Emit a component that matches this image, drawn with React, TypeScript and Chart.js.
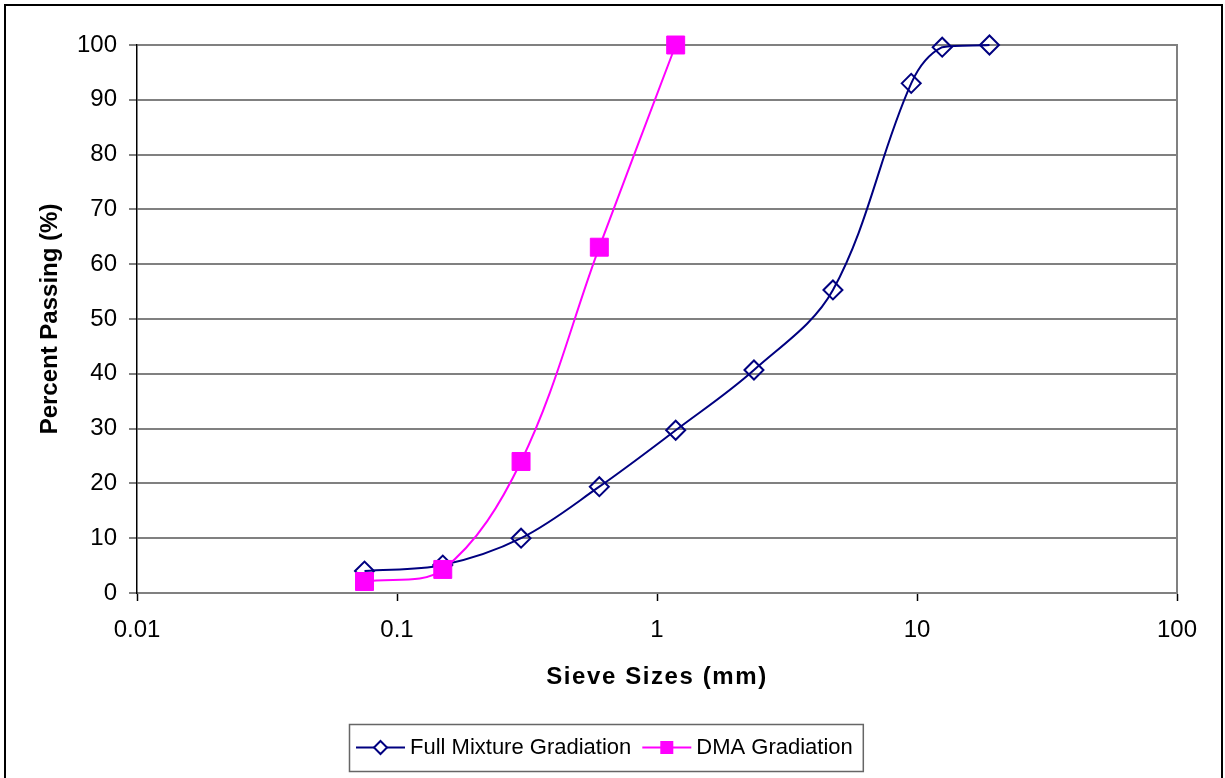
import React, { useEffect, useRef } from 'react';
import { Chart, registerables } from 'chart.js';

Chart.register(...registerables);

// ---- Data ----
const sieveSizes = [0.075, 0.15, 0.3, 0.6, 1.18, 2.36, 4.75, 9.5, 12.5, 19];
const fullMixture = [4.0, 5.1, 10.0, 19.4, 29.7, 40.7, 55.3, 93.0, 99.6, 100];
const dmaSieves = [0.075, 0.15, 0.3, 0.6, 1.18];
const dmaGradation = [2.1, 4.3, 24.0, 63.1, 100];
const xTickValues = [0.01, 0.1, 1, 10, 100];
const xTickLabels = ['0.01', '0.1', '1', '10', '100'];
const seriesNames = ['Full Mixture Gradiation', 'DMA Gradiation'];
const xTitle = 'Sieve Sizes (mm)';
const yTitle = 'Percent Passing (%)';

const FONT = '"Liberation Sans", Arial, sans-serif';
const NAVY = '#000080';
const MAGENTA = '#FF00FF';

const framePlugin = {
  id: 'frameAndLegend',
  beforeDraw(chart: any) {
    const ctx = chart.ctx;
    ctx.save();
    ctx.fillStyle = '#ffffff';
    ctx.fillRect(0, 0, chart.width, chart.height);
    ctx.restore();
  },
  beforeDatasetsDraw(chart: any) {
    const { ctx, chartArea } = chart;
    ctx.save();
    ctx.strokeStyle = '#808080';
    ctx.lineWidth = 2;
    ctx.beginPath();
    ctx.moveTo(chartArea.right, chartArea.top - 1);
    ctx.lineTo(chartArea.right, chartArea.bottom);
    ctx.stroke();
    ctx.restore();
  },
  afterDraw(chart: any) {
    const ctx = chart.ctx;
    const { chartArea } = chart;
    ctx.save();
    // outer frame
    ctx.strokeStyle = '#000000';
    ctx.lineWidth = 2;
    ctx.strokeRect(5, 5, 1217, 800);

    // x axis title (with the reference's wider letter spacing)
    ctx.font = `bold 24px ${FONT}`;
    try {
      (ctx as any).letterSpacing = '1.6px';
    } catch (e) {}
    const tw = ctx.measureText(xTitle).width;
    ctx.fillStyle = '#000000';
    ctx.textAlign = 'left';
    ctx.textBaseline = 'middle';
    ctx.fillText(xTitle, (chartArea.left + chartArea.right) / 2 - tw / 2, 677);
    try {
      (ctx as any).letterSpacing = '0px';
    } catch (e) {}

    // legend
    ctx.font = `22px ${FONT}`;
    const entries = chart.data.datasets.map((ds: any) => ({
      label: ds.label,
      color: ds.borderColor,
      style: ds.pointStyle,
    }));
    const lineLen = 49;
    const gapText = 5;
    const gapEntry = 11;
    const padL = 7;
    const padR = 10;
    const widths = entries.map((e: any) => ctx.measureText(e.label).width);
    let total = padL + padR + gapEntry * (entries.length - 1);
    entries.forEach((e: any, i: number) => {
      total += lineLen + gapText + widths[i];
    });
    const cx = 606;
    const top = 724;
    const h = 47;
    const left = Math.round(cx - total / 2);
    ctx.strokeStyle = '#666666';
    ctx.lineWidth = 1.5;
    ctx.strokeRect(left + 0.5, top + 0.5, total, h);
    const cy = top + h / 2;
    let x = left + padL;
    entries.forEach((e: any, i: number) => {
      ctx.strokeStyle = e.color;
      ctx.lineWidth = 2;
      ctx.beginPath();
      ctx.moveTo(x, cy);
      ctx.lineTo(x + lineLen, cy);
      ctx.stroke();
      const mx = x + lineLen / 2;
      if (e.style === 'rectRot') {
        const r = 6.5;
        ctx.fillStyle = '#ffffff';
        ctx.beginPath();
        ctx.moveTo(mx, cy - r);
        ctx.lineTo(mx + r, cy);
        ctx.lineTo(mx, cy + r);
        ctx.lineTo(mx - r, cy);
        ctx.closePath();
        ctx.fill();
        ctx.stroke();
      } else {
        const s = 13;
        ctx.fillStyle = e.color;
        ctx.fillRect(mx - s / 2, cy - s / 2, s, s);
      }
      ctx.fillStyle = '#000000';
      ctx.textAlign = 'left';
      ctx.textBaseline = 'middle';
      ctx.fillText(e.label, x + lineLen + gapText, cy);
      x += lineLen + gapText + widths[i] + gapEntry;
    });
    ctx.restore();
  },
};

export default function App() {
  const canvasRef = useRef<HTMLCanvasElement | null>(null);

  useEffect(() => {
    document.body.style.margin = '0';
    const canvas = canvasRef.current;
    if (!canvas) return;
    const chart = new Chart(canvas, {
      type: 'line',
      data: {
        datasets: [
          {
            label: seriesNames[0],
            data: sieveSizes.map((s, i) => ({ x: s, y: fullMixture[i] })),
            borderColor: NAVY,
            backgroundColor: 'rgba(0,0,0,0)',
            borderWidth: 2,
            pointStyle: 'rectRot',
            pointRadius: 9.5,
            pointBorderWidth: 2,
            pointBorderColor: NAVY,
            pointBackgroundColor: 'rgba(0,0,0,0)',
            tension: 0.35,
            fill: false,
            clip: false,
            order: 1,
          },
          {
            label: seriesNames[1],
            data: dmaSieves.map((s, i) => ({ x: s, y: dmaGradation[i] })),
            borderColor: MAGENTA,
            backgroundColor: MAGENTA,
            borderWidth: 2,
            pointStyle: 'rect',
            pointRadius: 12.7,
            pointBorderWidth: 1,
            pointBorderColor: MAGENTA,
            pointBackgroundColor: MAGENTA,
            tension: 0.35,
            fill: false,
            clip: false,
            order: 0,
          },
        ] as any,
      },
      options: {
        responsive: false,
        animation: false,
        devicePixelRatio: 1,
        events: [],
        layout: { padding: { top: 45, right: 48, bottom: 0, left: 0 } },
        plugins: {
          legend: { display: false },
          tooltip: { enabled: false },
          title: { display: false },
        },
        scales: {
          x: {
            type: 'logarithmic',
            position: 'bottom',
            min: 0.01,
            max: 100,
            afterBuildTicks: (scale: any) => {
              scale.ticks = xTickValues.map((v) => ({ value: v }));
            },
            afterFit: (scale: any) => {
              scale.height = 185;
            },
            ticks: {
              autoSkip: false,
              maxRotation: 0,
              minRotation: 0,
              padding: 15,
              color: '#000000',
              font: { family: FONT, size: 24 },
              callback: (_v: any, i: number) => xTickLabels[i],
            },
            grid: {
              display: true,
              drawOnChartArea: false,
              drawTicks: true,
              tickLength: 8,
              tickColor: '#000000',
              tickWidth: 1.5,
            },
            border: { display: true, color: '#808080', width: 2 },
            title: { display: false },
          },
          y: {
            type: 'linear',
            min: 0,
            max: 100,
            afterFit: (scale: any) => {
              scale.width = 137;
            },
            ticks: {
              stepSize: 10,
              padding: 12,
              color: '#000000',
              font: { family: FONT, size: 24 },
            },
            grid: {
              color: '#808080',
              lineWidth: 2,
              drawTicks: true,
              tickLength: 8,
              tickColor: '#808080',
            },
            border: { display: true, color: '#000000', width: 1.5 },
            title: {
              display: true,
              text: yTitle,
              color: '#000000',
              font: { family: FONT, size: 24, weight: 'bold' },
              padding: { top: 35.6, bottom: 0 },
            },
          },
        },
      } as any,
      plugins: [framePlugin],
    });
    return () => {
      chart.destroy();
    };
  }, []);

  return (
    <div style={{ width: 1225, height: 778 }}>
      <canvas ref={canvasRef} width={1225} height={778} style={{ display: 'block' }} />
    </div>
  );
}
